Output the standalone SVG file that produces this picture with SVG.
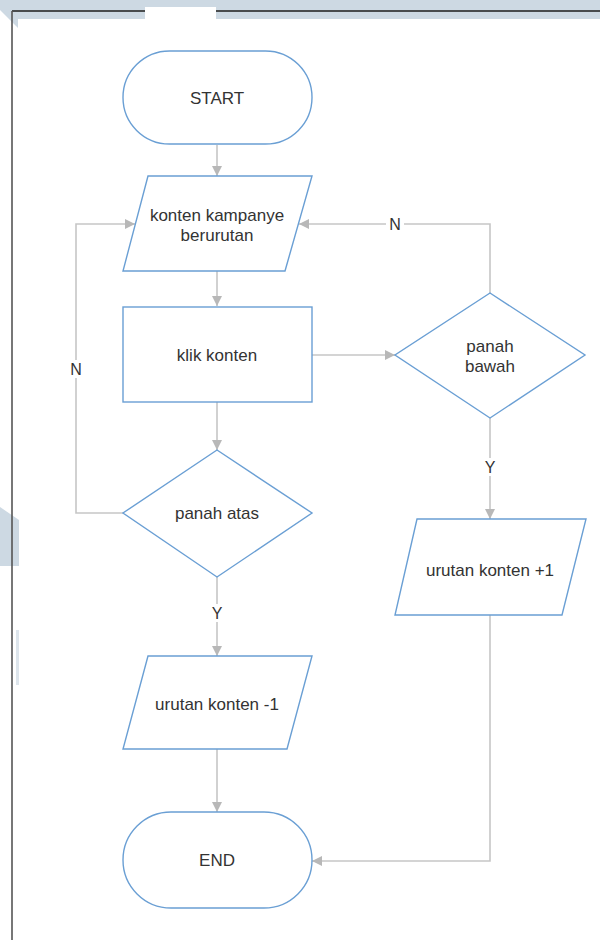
<svg xmlns="http://www.w3.org/2000/svg" width="600" height="940" viewBox="0 0 600 940">
  <style>
    .shape { fill: #ffffff; stroke: #6a9fd4; stroke-width: 1.4; }
    .label { font-family: "Liberation Sans", Arial, sans-serif; font-size: 17px; fill: #333333; text-anchor: middle; dominant-baseline: central; }
    .edge { fill: none; stroke: #c6c6c6; stroke-width: 1.6; }
    .edge-label-bg { fill: #ffffff; }
  </style>
  <defs>
    <marker id="arrow" viewBox="0 0 10 10" refX="10" refY="5" markerWidth="11" markerHeight="10" markerUnits="userSpaceOnUse" orient="auto">
      <path d="M0,0 L10,5 L0,10 Z" fill="#b8b8b8"/>
    </marker>
  </defs>

  <!-- page background and frame -->
  <rect x="0" y="0" width="600" height="940" fill="#ffffff"/>
  <path d="M0,0 H600 V19 H216 V7 H145 V19 H18 V28 L0,10 Z" fill="#cdd9e3"/>
  <path d="M0,507 L19,520 V566 H0 Z" fill="#cdd9e3"/>
  <rect x="16" y="630" width="3" height="55" fill="#dde5ec"/>
  <path d="M12,11 H145 M216,11 H600" stroke="#1e1e1e" stroke-width="1.5" fill="none"/>
  <path d="M12,11 V940" stroke="#555555" stroke-width="1.6" fill="none"/>

  <!-- connectors -->
  <g id="connectors">
    <path class="edge" d="M217,145 V176" marker-end="url(#arrow)"/>
    <path class="edge" d="M217,271 V306" marker-end="url(#arrow)"/>
    <path class="edge" d="M217,402 V450" marker-end="url(#arrow)"/>
    <path class="edge" d="M312,355 H395" marker-end="url(#arrow)"/>
    <path class="edge" d="M490,293 V224 H299" marker-end="url(#arrow)"/>
    <path class="edge" d="M490,418 V519" marker-end="url(#arrow)"/>
    <path class="edge" d="M490,615 V861 H312" marker-end="url(#arrow)"/>
    <path class="edge" d="M123,513 H76 V224 H135" marker-end="url(#arrow)"/>
    <path class="edge" d="M217,577 V656" marker-end="url(#arrow)"/>
    <path class="edge" d="M217,749 V812" marker-end="url(#arrow)"/>

    <rect class="edge-label-bg" x="386" y="215" width="18" height="18"/>
    <text class="label" x="395" y="224" style="font-size:16px">N</text>
    <rect class="edge-label-bg" x="67" y="360" width="18" height="18"/>
    <text class="label" x="76" y="369" style="font-size:16px">N</text>
    <rect class="edge-label-bg" x="482" y="458" width="16" height="18"/>
    <text class="label" x="490" y="467" style="font-size:16px">Y</text>
    <rect class="edge-label-bg" x="209" y="604" width="16" height="18"/>
    <text class="label" x="217" y="613" style="font-size:16px">Y</text>
  </g>

  <!-- nodes -->
  <g id="start">
    <rect class="shape" x="123" y="51" width="189" height="93" rx="46.5" ry="46.5"/>
    <text class="label" x="217" y="98">START</text>
  </g>

  <g id="konten-kampanye">
    <polygon class="shape" points="148,176 312,176 285,271 123,271"/>
    <text class="label" x="217" y="215">konten kampanye</text>
    <text class="label" x="217" y="235">berurutan</text>
  </g>

  <g id="klik-konten">
    <rect class="shape" x="123" y="307" width="189" height="95"/>
    <text class="label" x="217" y="355">klik konten</text>
  </g>

  <g id="panah-bawah">
    <polygon class="shape" points="490,293 585,355 490,418 395,355"/>
    <text class="label" x="490" y="346">panah</text>
    <text class="label" x="490" y="366">bawah</text>
  </g>

  <g id="panah-atas">
    <polygon class="shape" points="217,450 312,513 217,577 123,513"/>
    <text class="label" x="217" y="513">panah atas</text>
  </g>

  <g id="urutan-plus">
    <polygon class="shape" points="417,519 586,519 562,615 395,615"/>
    <text class="label" x="490" y="570">urutan konten +1</text>
  </g>

  <g id="urutan-minus">
    <polygon class="shape" points="148,656 312,656 287,749 123,749"/>
    <text class="label" x="217" y="704">urutan konten -1</text>
  </g>

  <g id="end">
    <rect class="shape" x="123" y="812" width="189" height="96" rx="48" ry="48"/>
    <text class="label" x="217" y="860">END</text>
  </g>
</svg>
